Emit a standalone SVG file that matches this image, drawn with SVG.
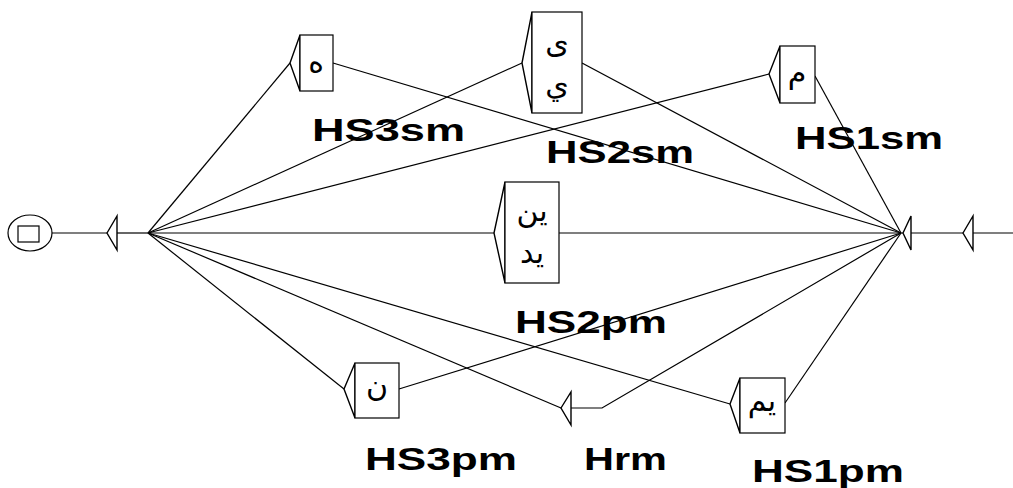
<svg xmlns="http://www.w3.org/2000/svg" width="1013" height="488" viewBox="0 0 1013 488">
  <style>
    .ln { fill: none; stroke: #000; stroke-width: 1.2; }
    .box { fill: #fff; stroke: #000; stroke-width: 1.2; }
    .tri { fill: #fff; stroke: #000; stroke-width: 1.4; }
    .ar { font-family: "DejaVu Sans", "Noto Sans", sans-serif; font-size: 30px; fill: #000; text-anchor: middle; dominant-baseline: central; }
    .lbl { font-family: "Liberation Sans", Arial, sans-serif; font-weight: bold; font-size: 31px; fill: #000; }
  </style>
  <rect width="1013" height="488" fill="#fff"/>

  <!-- connectors -->
  <g id="connectors">
    <!-- initial state to left junction -->
    <line class="ln" x1="52" y1="233" x2="107" y2="233"/>
    <line class="ln" x1="117" y1="233" x2="148" y2="233"/>
    <!-- left junction fan-out to box inputs -->
    <line class="ln" x1="148" y1="233" x2="290" y2="63"/>
    <line class="ln" x1="148" y1="233" x2="522" y2="63"/>
    <line class="ln" x1="148" y1="233" x2="769" y2="74"/>
    <line class="ln" x1="148" y1="233" x2="494" y2="233"/>
    <line class="ln" x1="148" y1="233" x2="344" y2="389"/>
    <line class="ln" x1="148" y1="233" x2="561" y2="408"/>
    <line class="ln" x1="148" y1="233" x2="730" y2="404"/>
    <!-- box outputs into right junction -->
    <line class="ln" x1="333" y1="63" x2="901" y2="233"/>
    <line class="ln" x1="582" y1="63" x2="901" y2="233"/>
    <line class="ln" x1="815" y1="76" x2="901" y2="233"/>
    <line class="ln" x1="559" y1="233" x2="903" y2="233"/>
    <line class="ln" x1="399" y1="389" x2="901" y2="233"/>
    <polyline class="ln" points="571,408 602,408 901,233"/>
    <line class="ln" x1="785" y1="403" x2="901" y2="233"/>
    <!-- right junction onwards -->
    <line class="ln" x1="911" y1="233" x2="963" y2="233"/>
    <line class="ln" x1="973" y1="233" x2="1013" y2="233"/>
  </g>

  <!-- initial state -->
  <g id="initial">
    <ellipse class="box" cx="30" cy="233" rx="22" ry="18"/>
    <rect class="box" x="18" y="226" width="21" height="16"/>
  </g>

  <!-- left junction -->
  <g id="junction-left">
    <polygon class="tri" points="107,233 117,216 117,250"/>
  </g>

  <!-- right junction -->
  <g id="junction-right">
    <polygon class="tri" points="903,233 911,216 911,250"/>
  </g>

  <g id="entry-right">
    <polygon class="tri" points="963,233 973,216 973,250"/>
  </g>

  <!-- HS3sm -->
  <g id="node-HS3sm">
    <polygon class="tri" points="290,63 300,35 300,91"/>
    <rect class="box" x="300" y="35" width="33" height="56"/>
    <text class="ar" x="316" y="61">ه</text>
  </g>

  <!-- HS2sm -->
  <g id="node-HS2sm">
    <polygon class="tri" points="522,63 532,12 532,113"/>
    <rect class="box" x="532" y="12" width="50" height="101"/>
    <text class="ar" x="557" y="42">ى</text>
    <text class="ar" x="557" y="84">ي</text>
  </g>

  <!-- HS1sm -->
  <g id="node-HS1sm">
    <polygon class="tri" points="769,74 780,46 780,103"/>
    <rect class="box" x="780" y="46" width="35" height="57"/>
    <text class="ar" x="797" y="72">م</text>
  </g>

  <!-- HS2pm -->
  <g id="node-HS2pm">
    <polygon class="tri" points="494,233 505,182 505,283"/>
    <rect class="box" x="505" y="182" width="54" height="101"/>
    <text class="ar" x="532" y="210">ين</text>
    <text class="ar" x="532" y="252">يد</text>
  </g>

  <!-- HS3pm -->
  <g id="node-HS3pm">
    <polygon class="tri" points="344,389 355,363 355,418"/>
    <rect class="box" x="355" y="363" width="44" height="55"/>
    <text class="ar" x="377" y="385">ن</text>
  </g>

  <!-- Hrm -->
  <g id="node-Hrm">
    <polygon class="tri" points="561,408 571,392 571,425"/>
  </g>

  <!-- HS1pm -->
  <g id="node-HS1pm">
    <polygon class="tri" points="730,404 740,378 740,433"/>
    <rect class="box" x="740" y="378" width="45" height="55"/>
    <text class="ar" x="762" y="400">يم</text>
  </g>

  <!-- output labels -->
  <g id="labels">
    <text class="lbl" x="312" y="141" textLength="153" lengthAdjust="spacingAndGlyphs">HS3sm</text>
    <text class="lbl" x="546" y="163" textLength="148" lengthAdjust="spacingAndGlyphs">HS2sm</text>
    <text class="lbl" x="795" y="149" textLength="148" lengthAdjust="spacingAndGlyphs">HS1sm</text>
    <text class="lbl" x="515" y="333" textLength="152" lengthAdjust="spacingAndGlyphs">HS2pm</text>
    <text class="lbl" x="365" y="470" textLength="152" lengthAdjust="spacingAndGlyphs">HS3pm</text>
    <text class="lbl" x="584" y="470" textLength="83" lengthAdjust="spacingAndGlyphs">Hrm</text>
    <text class="lbl" x="752" y="482" textLength="152" lengthAdjust="spacingAndGlyphs">HS1pm</text>
  </g>
</svg>
